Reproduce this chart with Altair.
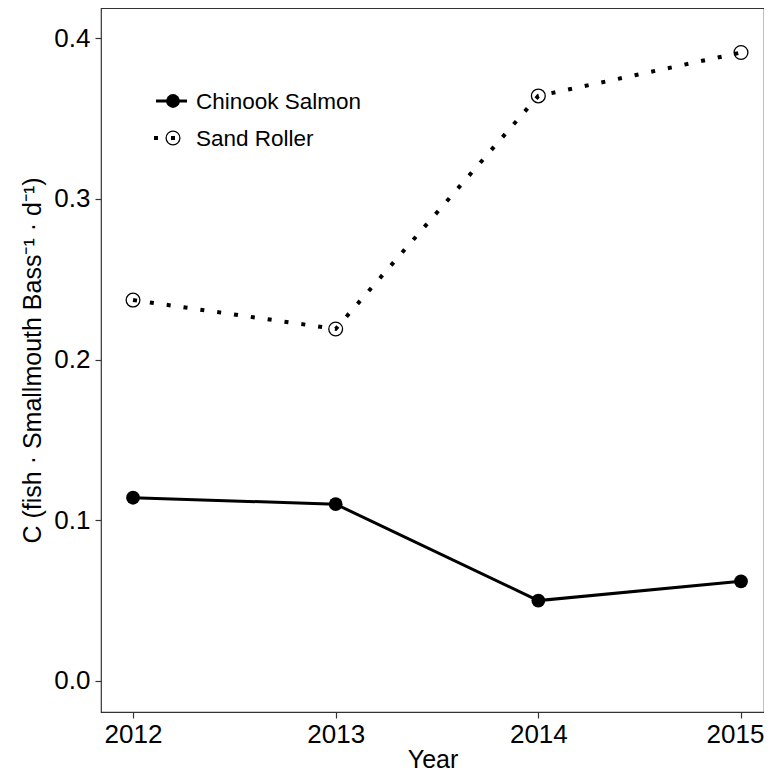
import altair as alt
import pandas as pd

years = [2012, 2013, 2014, 2015]
chinook = [0.114, 0.110, 0.050, 0.062]
sand_roller = [0.237, 0.219, 0.364, 0.391]
y_ticks = [0.0, 0.1, 0.2, 0.3, 0.4]

df_c = pd.DataFrame({"Year": years, "C": chinook})
df_s = pd.DataFrame({"Year": years, "C": sand_roller})

FONT = "Liberation Sans"

xs = alt.Scale(domain=[2011.842, 2015.1135], nice=False, zero=False)
ys = alt.Scale(domain=[-0.0193, 0.4187], nice=False, zero=False)

x_enc = alt.X("Year:Q", scale=xs,
              axis=alt.Axis(values=years, format="d", title="Year", titlePadding=0,
                            labelPadding=3,
                            labelOffset=alt.expr("datum.value == 2015 ? -6 : 0")))
y_enc = alt.Y("C:Q", scale=ys,
              axis=alt.Axis(values=y_ticks, format=".1f", labelPadding=5,
                            title="C  (fish · Smallmouth Bass⁻¹ · d⁻¹)", titlePadding=8))

c_line = alt.Chart(df_c).mark_line(color="black", strokeWidth=3).encode(x=x_enc, y=y_enc)
c_pts = alt.Chart(df_c).mark_point(filled=True, color="black", size=190, opacity=1).encode(x=x_enc, y=y_enc)
s_line = alt.Chart(df_s).mark_line(color="black", strokeWidth=4, strokeDash=[4, 13], strokeCap="butt").encode(x=x_enc, y=y_enc)
s_pts = alt.Chart(df_s).mark_point(filled=False, color="black", size=190, strokeWidth=1.3, opacity=1).encode(x=x_enc, y=y_enc)

leg_df = pd.DataFrame({"k": [0]})
lc_rule = alt.Chart(leg_df).mark_rule(color="black", strokeWidth=3).encode(
    x=alt.value(55), x2=alt.value(86), y=alt.value(93))
lc_pt = alt.Chart(leg_df).mark_point(filled=True, color="black", size=190, opacity=1).encode(
    x=alt.value(72), y=alt.value(93))
lc_txt = alt.Chart(leg_df).mark_text(text="Chinook Salmon", align="left", baseline="middle",
                                     font=FONT, fontSize=22.5, color="black").encode(
    x=alt.value(95), y=alt.value(94))
ls_rule = alt.Chart(leg_df).mark_rule(color="black", strokeWidth=4, strokeDash=[4, 13], strokeCap="butt").encode(
    x=alt.value(53), x2=alt.value(76), y=alt.value(130))
ls_pt = alt.Chart(leg_df).mark_point(filled=False, color="black", size=190, strokeWidth=1.3, opacity=1).encode(
    x=alt.value(72), y=alt.value(130))
ls_txt = alt.Chart(leg_df).mark_text(text="Sand Roller", align="left", baseline="middle",
                                     font=FONT, fontSize=22.5, color="black").encode(
    x=alt.value(95), y=alt.value(131))

chart = alt.layer(c_line, c_pts, s_line, s_pts, lc_rule, lc_pt, lc_txt, ls_rule, ls_pt, ls_txt).properties(
    width=663, height=704,
    background="white",
    autosize=alt.AutoSizeParams(type="none"),
    padding={"left": 93, "top": 0, "right": 0, "bottom": 62},
).configure_view(
    stroke="#333333", strokeWidth=1.2
).configure_axis(
    grid=False, domain=False,
    labelFont=FONT, labelFontSize=26, labelColor="black",
    titleFont=FONT, titleFontSize=25, titleFontWeight="normal", titleColor="black",
    tickColor="#333333", tickSize=6, tickWidth=1.2,
)

chart.save("out.html", embed_options={"renderer": "svg", "actions": False})
